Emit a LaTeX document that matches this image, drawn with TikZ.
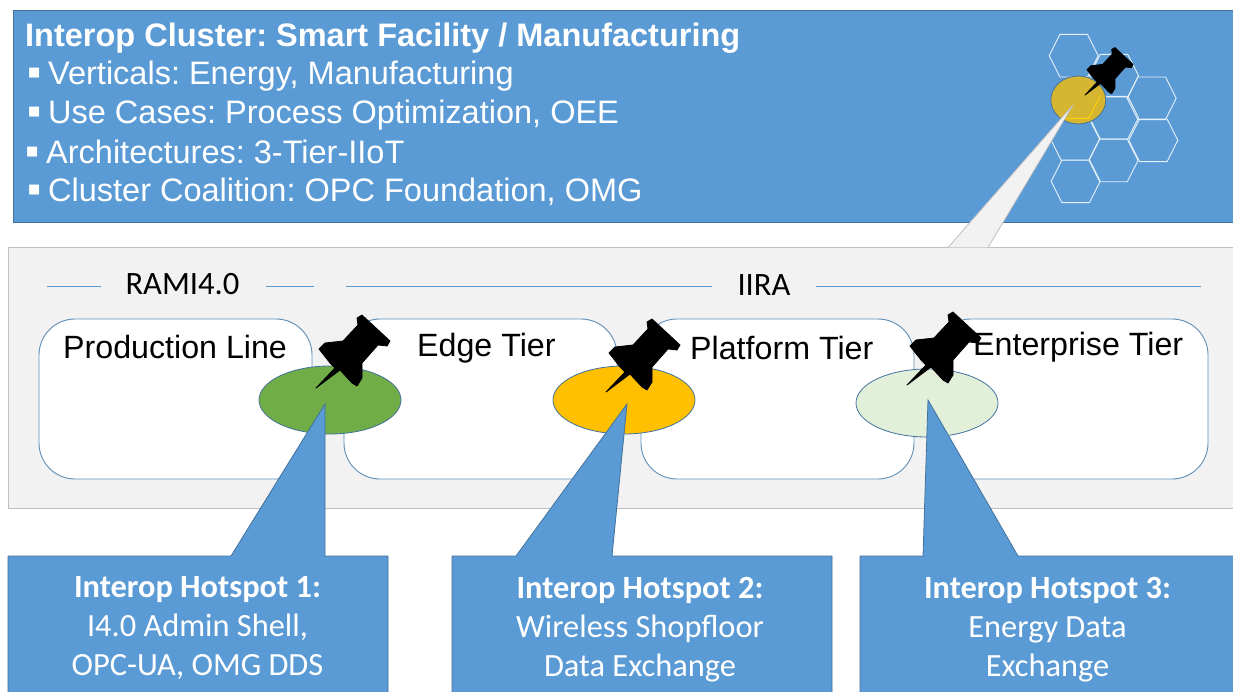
\documentclass[tikz,border=0pt]{standalone}
\usepackage{fontspec}
\setmainfont{Liberation Sans}
\newfontfamily\calfont{Carlito}
\usetikzlibrary{calc,shapes.geometric}
\definecolor{mblue}{HTML}{5B9BD5}
\definecolor{mbord}{HTML}{41719C}
\definecolor{mtier}{HTML}{5F8FB8}
\definecolor{mgrey}{HTML}{F2F2F2}
\definecolor{mgbord}{HTML}{BFBFBF}
\definecolor{mgold}{HTML}{D6B531}
\definecolor{mgreen}{HTML}{70AD47}
\definecolor{mamber}{HTML}{FFC000}
\definecolor{mpale}{HTML}{E2F0D9}
\newcommand{\blt}{\makebox[21pt][l]{\raisebox{-0.6pt}{\fontsize{40}{40}\selectfont ▪}}}
\tikzset{
  x=1pt,y=-1pt,
  panel/.style={draw=mbord,line width=0.8pt,fill=mblue},
  greypanel/.style={draw=mgbord,line width=1pt,fill=mgrey},
  tierbox/.style={draw=mtier,line width=0.9pt,fill=white,rounded corners=36pt},
  hexa/.style={draw=white!85!mblue,line width=0.9pt},
  hot/.style={draw=mbord,line width=0.8pt,shape=ellipse,inner sep=0pt,minimum width=142pt,minimum height=68pt},
  headtxt/.style={anchor=base west,inner sep=0pt,text=white,font=\fontsize{32.5}{32.5}\selectfont\bfseries},
  itemtxt/.style={anchor=base west,inner sep=0pt,text=white,font=\fontsize{32.5}{32.5}\selectfont},
  tiertxt/.style={anchor=base west,inner sep=0pt,text=black,font=\fontsize{32.2}{32.2}\selectfont},
  captxt/.style={anchor=base,inner sep=0pt,text=black,font=\calfont\fontsize{32.6}{32.6}\selectfont},
  hstxt/.style={anchor=base,inner sep=0pt,text=white,font=\calfont\fontsize{32.4}{32.4}\selectfont},
  hsbold/.style={hstxt,font=\calfont\fontsize{32.4}{32.4}\selectfont\bfseries},
  rulerline/.style={draw=mblue,line width=1pt},
  pin/.pic={
    \fill[black,draw=black,line width=0.8pt,line join=round]
      (0,0)--(19,-20)--(14,-25)--(3,-39)--(9,-45)--(27,-47)--(42,-63)--(41,-70)--(46,-73)
      --(74,-47)--(71,-42)--(62,-43)--(46,-25)--(46,-10)--(41,-2)--(36,-5)--(24,-18)--cycle;
  }
}
\newcommand{\hexat}[2]{\draw[hexa] (#1,#2) ++(24.5,0) -- ++(-10.7,21.3) -- ++(-27.6,0) -- ++(-10.7,-21.3) -- ++(10.7,-21.3) -- ++(27.6,0) -- cycle;}
\begin{document}
\frenchspacing
\begin{tikzpicture}
\useasboundingbox (0,0) rectangle (1233,692);
\fill[white] (0,0) rectangle (1233,692);
% top panel
\path[panel] (13,10) rectangle (1240,222);
\node[headtxt] (title) at (25,47) {Interop Cluster: Smart Facility / Manufacturing};
\node[itemtxt] (l1) at (27,85) {\blt Verticals: Energy, Manufacturing};
\node[itemtxt] (l2) at (27,124) {\blt Use Cases: Process Optimization, OEE};
\node[itemtxt] (l3) at (25,164) {\blt Architectures: 3-Tier-IIoT};
\node[itemtxt] (l4) at (27,202) {\blt Cluster Coalition: OPC Foundation, OMG};
% hexagons
\hexat{1073.7}{55.7}
\hexat{1114}{75.7}
\hexat{1151.7}{98.3}
\hexat{1114}{117.7}
\hexat{1075}{139}
\hexat{1153.3}{140.3}
\hexat{1113.5}{160.5}
\hexat{1075.7}{181.3}
% grey panel
\path[greypanel] (8,248) rectangle (1240,508);
% gold hotspot
\node[hot,minimum width=55pt,minimum height=48pt,fill=mgold] (gold) at (1078.3,100) {};
\begin{scope}
\clip (1078.3,100) ellipse [x radius=27,y radius=23.5];
\draw[draw=yellow!70!orange,line width=1pt] (1075,97) ++(24.5,0) -- ++(-10.7,21.3) -- ++(-27.6,0);
\end{scope}
% small callout
\path[fill=mgrey,draw=mgbord,line width=0.8pt] (948,247.5) -- (1073,105) -- (988,247.5);
\pic[scale=0.65] at (1085,95) {pin};
% headings
\node[captxt] (rami) at (182.5,295) {RAMI4.0};
\node[captxt] (iira) at (764,296) {IIRA};
\coordinate (r1) at (47,287); \coordinate (r2) at (101,287);
\coordinate (r3) at (266,287); \coordinate (r4) at (314,287);
\coordinate (r5) at (346,287); \coordinate (r6) at (712,287);
\coordinate (r7) at (816,287); \coordinate (r8) at (1201,287);
\draw[rulerline] (r1) -- (r2); \draw[rulerline] (r3) -- (r4);
\draw[rulerline] (r5) -- (r6); \draw[rulerline] (r7) -- (r8);
% tiers
\path[tierbox] (39,319) rectangle (312,479);
\path[tierbox] (344,319) rectangle (617,479);
\path[tierbox] (641,319) rectangle (914,479);
\path[tierbox] (935,319) rectangle (1208,479);
\node[tiertxt] (t1) at (63,358) {Production Line};
\node[tiertxt] (t2) at (417,356) {Edge Tier};
\node[tiertxt] (t3) at (690,359) {Platform Tier};
\node[tiertxt] (t4) at (973,355) {Enterprise Tier};
% hotspots
\node[hot,fill=mgreen] (hot1) at (330,400) {};
\node[hot,fill=mamber] (hot2) at (624,400) {};
\node[hot,fill=mpale] (hot3) at (927,403) {};
% pins
\pic at (316,388) {pin};
\pic at (606,392) {pin};
\pic at (907,385) {pin};
% callouts
\path[panel] (8,556) -- (231,556) -- (325,404) -- (325,556) -- (388,556) -- (388,700) -- (8,700) -- cycle;
\path[panel] (452,556) -- (516,556) -- (627,404) -- (612,556) -- (832,556) -- (832,700) -- (452,700) -- cycle;
\path[panel] (860,556) -- (923,556) -- (928,400) -- (1018,556) -- (1240,556) -- (1240,700) -- (860,700) -- cycle;
\node[hsbold] (h1a) at (197.5,597) {Interop Hotspot 1:};
\node[hstxt] (h1b) at (197.5,636) {I4.0 Admin Shell,};
\node[hstxt] (h1c) at (197.5,675) {OPC-UA, OMG DDS};
\node[hsbold] (h2a) at (640,598) {Interop Hotspot 2:};
\node[hstxt] (h2b) at (640,637) {Wireless Shopfloor};
\node[hstxt] (h2c) at (640,676) {Data Exchange};
\node[hsbold] (h3a) at (1047.5,598) {Interop Hotspot 3:};
\node[hstxt] (h3b) at (1047.5,637) {Energy Data};
\node[hstxt] (h3c) at (1047.5,676) {Exchange};
\end{tikzpicture}
\end{document}
